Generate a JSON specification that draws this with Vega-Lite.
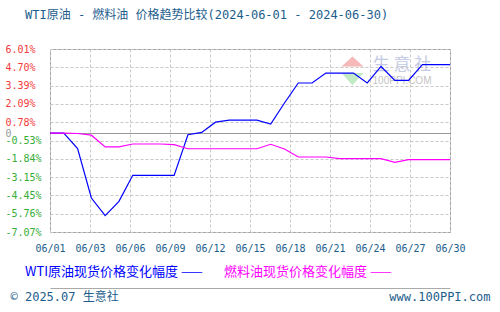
{
  "$schema": "https://vega.github.io/schema/vega-lite/v6.json",
  "width": 400,
  "height": 183,
  "autosize": {"type": "none"},
  "padding": {"left": 50, "top": 49, "right": 50, "bottom": 80},
  "background": "#ffffff",
  "config": {
    "view": {"stroke": "#999999", "strokeWidth": 1},
    "axis": {"labelFlush": false, "labelOverlap": false, "labelBound": false}
  },
  "title": {
    "text": "WTI原油 - 燃料油 价格趋势比较(2024-06-01 - 2024-06-30)",
    "anchor": "start",
    "frame": "group",
    "dx": -25,
    "offset": 22,
    "font": "DejaVu Sans Mono, Noto Sans CJK SC",
    "fontSize": 12,
    "fontWeight": "normal",
    "color": "#1c5d8c"
  },
  "data": {
    "values": [
      {"date": "2024-06-01", "series": "WTI原油现货价格变化幅度", "value": 0},
      {"date": "2024-06-02", "series": "WTI原油现货价格变化幅度", "value": 0},
      {"date": "2024-06-03", "series": "WTI原油现货价格变化幅度", "value": -1.1},
      {"date": "2024-06-04", "series": "WTI原油现货价格变化幅度", "value": -4.64},
      {"date": "2024-06-05", "series": "WTI原油现货价格变化幅度", "value": -5.9},
      {"date": "2024-06-06", "series": "WTI原油现货价格变化幅度", "value": -4.88},
      {"date": "2024-06-07", "series": "WTI原油现货价格变化幅度", "value": -3.02},
      {"date": "2024-06-08", "series": "WTI原油现货价格变化幅度", "value": -3.02},
      {"date": "2024-06-09", "series": "WTI原油现货价格变化幅度", "value": -3.02},
      {"date": "2024-06-10", "series": "WTI原油现货价格变化幅度", "value": -3.02},
      {"date": "2024-06-11", "series": "WTI原油现货价格变化幅度", "value": -0.12},
      {"date": "2024-06-12", "series": "WTI原油现货价格变化幅度", "value": 0.05},
      {"date": "2024-06-13", "series": "WTI原油现货价格变化幅度", "value": 0.78},
      {"date": "2024-06-14", "series": "WTI原油现货价格变化幅度", "value": 0.93},
      {"date": "2024-06-15", "series": "WTI原油现货价格变化幅度", "value": 0.93},
      {"date": "2024-06-16", "series": "WTI原油现货价格变化幅度", "value": 0.93},
      {"date": "2024-06-17", "series": "WTI原油现货价格变化幅度", "value": 0.65},
      {"date": "2024-06-18", "series": "WTI原油现货价格变化幅度", "value": 2.15},
      {"date": "2024-06-19", "series": "WTI原油现货价格变化幅度", "value": 3.58},
      {"date": "2024-06-20", "series": "WTI原油现货价格变化幅度", "value": 3.58},
      {"date": "2024-06-21", "series": "WTI原油现货价格变化幅度", "value": 4.29},
      {"date": "2024-06-22", "series": "WTI原油现货价格变化幅度", "value": 4.29},
      {"date": "2024-06-23", "series": "WTI原油现货价格变化幅度", "value": 4.29},
      {"date": "2024-06-24", "series": "WTI原油现货价格变化幅度", "value": 3.58},
      {"date": "2024-06-25", "series": "WTI原油现货价格变化幅度", "value": 4.76},
      {"date": "2024-06-26", "series": "WTI原油现货价格变化幅度", "value": 3.77},
      {"date": "2024-06-27", "series": "WTI原油现货价格变化幅度", "value": 3.77},
      {"date": "2024-06-28", "series": "WTI原油现货价格变化幅度", "value": 4.89},
      {"date": "2024-06-29", "series": "WTI原油现货价格变化幅度", "value": 4.89},
      {"date": "2024-06-30", "series": "WTI原油现货价格变化幅度", "value": 4.89},
      {"date": "2024-06-01", "series": "燃料油现货价格变化幅度", "value": 0},
      {"date": "2024-06-02", "series": "燃料油现货价格变化幅度", "value": 0},
      {"date": "2024-06-03", "series": "燃料油现货价格变化幅度", "value": -0.03},
      {"date": "2024-06-04", "series": "燃料油现货价格变化幅度", "value": -0.15},
      {"date": "2024-06-05", "series": "燃料油现货价格变化幅度", "value": -0.99},
      {"date": "2024-06-06", "series": "燃料油现货价格变化幅度", "value": -0.99},
      {"date": "2024-06-07", "series": "燃料油现货价格变化幅度", "value": -0.78},
      {"date": "2024-06-08", "series": "燃料油现货价格变化幅度", "value": -0.78},
      {"date": "2024-06-09", "series": "燃料油现货价格变化幅度", "value": -0.78},
      {"date": "2024-06-10", "series": "燃料油现货价格变化幅度", "value": -0.82},
      {"date": "2024-06-11", "series": "燃料油现货价格变化幅度", "value": -1.12},
      {"date": "2024-06-12", "series": "燃料油现货价格变化幅度", "value": -1.12},
      {"date": "2024-06-13", "series": "燃料油现货价格变化幅度", "value": -1.12},
      {"date": "2024-06-14", "series": "燃料油现货价格变化幅度", "value": -1.12},
      {"date": "2024-06-15", "series": "燃料油现货价格变化幅度", "value": -1.12},
      {"date": "2024-06-16", "series": "燃料油现货价格变化幅度", "value": -1.12},
      {"date": "2024-06-17", "series": "燃料油现货价格变化幅度", "value": -0.8},
      {"date": "2024-06-18", "series": "燃料油现货价格变化幅度", "value": -1.14},
      {"date": "2024-06-19", "series": "燃料油现货价格变化幅度", "value": -1.71},
      {"date": "2024-06-20", "series": "燃料油现货价格变化幅度", "value": -1.71},
      {"date": "2024-06-21", "series": "燃料油现货价格变化幅度", "value": -1.71},
      {"date": "2024-06-22", "series": "燃料油现货价格变化幅度", "value": -1.83},
      {"date": "2024-06-23", "series": "燃料油现货价格变化幅度", "value": -1.83},
      {"date": "2024-06-24", "series": "燃料油现货价格变化幅度", "value": -1.83},
      {"date": "2024-06-25", "series": "燃料油现货价格变化幅度", "value": -1.83},
      {"date": "2024-06-26", "series": "燃料油现货价格变化幅度", "value": -2.09},
      {"date": "2024-06-27", "series": "燃料油现货价格变化幅度", "value": -1.9},
      {"date": "2024-06-28", "series": "燃料油现货价格变化幅度", "value": -1.9},
      {"date": "2024-06-29", "series": "燃料油现货价格变化幅度", "value": -1.9},
      {"date": "2024-06-30", "series": "燃料油现货价格变化幅度", "value": -1.9}
    ]
  },
  "layer": [
    {
      "data": {"values": [{}]},
      "layer": [
        {
          "mark": {"type": "point", "shape": "M-1,0.45L0,-0.45L1,0.45Z", "filled": true, "color": "#f6b8b8", "opacity": 1, "size": 484},
          "encoding": {
            "x": {
              "datum": {"year": 2024, "month": 6, "date": 22, "hours": 22, "minutes": 20, "utc": true},
              "type": "temporal",
              "scale": {"type": "utc", "domain": [{"year": 2024, "month": 6, "date": 1, "utc": true}, {"year": 2024, "month": 6, "date": 30, "utc": true}]},
              "axis": {"orient": "bottom", "offset": 56, "domain": true, "domainColor": "#aaaaaa", "labels": false, "ticks": false, "grid": false, "title": null}
            },
            "y": {"datum": 5.12, "type": "quantitative", "scale": {"domain": [-7.07, 6.01], "nice": false, "zero": false}, "axis": null}
          }
        },
        {
          "mark": {"type": "point", "shape": "M-1,-0.55L1,-0.55L0,0.55Z", "filled": true, "color": "#c2eac4", "opacity": 1, "size": 484},
          "encoding": {
            "x": {"datum": {"year": 2024, "month": 6, "date": 22, "hours": 22, "minutes": 20, "utc": true}, "type": "temporal"},
            "y": {"datum": 3.86, "type": "quantitative"}
          }
        },
        {
          "mark": {"type": "text", "text": "生 意 社", "font": "Noto Sans CJK SC", "fontSize": 17, "color": "#c5cbe3", "align": "center", "baseline": "middle"},
          "encoding": {
            "x": {"datum": {"year": 2024, "month": 6, "date": 26, "hours": 12, "minutes": 30, "utc": true}, "type": "temporal"},
            "y": {"datum": 4.9, "type": "quantitative"}
          }
        },
        {
          "mark": {"type": "text", "text": "100PPI.COM", "font": "Liberation Sans", "fontSize": 10, "color": "#c4c4c4", "align": "center", "baseline": "middle"},
          "encoding": {
            "x": {"datum": {"year": 2024, "month": 6, "date": 26, "hours": 12, "minutes": 30, "utc": true}, "type": "temporal"},
            "y": {"datum": 3.72, "type": "quantitative"}
          }
        }
      ]
    },
    {
      "mark": {"type": "line", "strokeWidth": 1.2},
      "encoding": {
        "x": {
          "field": "date",
          "type": "temporal",
          "scale": {"type": "utc", "domain": [{"year": 2024, "month": 6, "date": 1, "utc": true}, {"year": 2024, "month": 6, "date": 30, "utc": true}]},
          "axis": {
            "orient": "bottom",
            "values": [
              {"year": 2024, "month": 6, "date": 1, "utc": true},
              {"year": 2024, "month": 6, "date": 3, "hours": 21, "minutes": 36, "utc": true},
              {"year": 2024, "month": 6, "date": 6, "hours": 19, "minutes": 12, "utc": true},
              {"year": 2024, "month": 6, "date": 9, "hours": 16, "minutes": 48, "utc": true},
              {"year": 2024, "month": 6, "date": 12, "hours": 14, "minutes": 24, "utc": true},
              {"year": 2024, "month": 6, "date": 15, "hours": 12, "utc": true},
              {"year": 2024, "month": 6, "date": 18, "hours": 9, "minutes": 36, "utc": true},
              {"year": 2024, "month": 6, "date": 21, "hours": 7, "minutes": 12, "utc": true},
              {"year": 2024, "month": 6, "date": 24, "hours": 4, "minutes": 48, "utc": true},
              {"year": 2024, "month": 6, "date": 27, "hours": 2, "minutes": 24, "utc": true},
              {"year": 2024, "month": 6, "date": 30, "utc": true}
            ],
            "labelExpr": "utcFormat(datum.value, '%m/%d')",
            "grid": true,
            "gridColor": "#c8c8c8",
            "gridDash": [3, 2],
            "ticks": false,
            "domain": false,
            "labelFont": "DejaVu Sans Mono",
            "labelFontSize": 10,
            "labelColor": "#1c5d8c",
            "labelPadding": 11,
            "title": "© 2025.07 生意社",
            "titleX": -40,
            "titleY": 64,
            "titleAlign": "left",
            "titleBaseline": "middle",
            "titleFont": "DejaVu Sans Mono, Noto Sans CJK SC",
            "titleFontSize": 12,
            "titleFontWeight": "normal",
            "titleColor": "#1c5d8c"
          }
        },
        "y": {
          "field": "value",
          "type": "quantitative",
          "scale": {"domain": [-7.07, 6.01], "nice": false, "zero": false},
          "axis": {
            "orient": "left",
            "values": [6.01, 4.7, 3.39, 2.09, 0.78, 0, -0.53, -1.84, -3.15, -4.45, -5.76, -7.07],
            "labelExpr": "datum.value === 0 ? '0' : (datum.value < 0 ? '-' : '') + format(abs(datum.value), '.2f') + '%'",
            "labelAlign": "left",
            "labelBaseline": "middle",
            "labelPadding": 45,
            "ticks": false,
            "domain": false,
            "grid": true,
            "gridColor": {"condition": {"test": "datum.value === 0", "value": "#999999"}, "value": "#c8c8c8"},
            "gridDash": {"condition": {"test": "datum.value === 0", "value": []}, "value": [3, 2]},
            "labelColor": {"condition": [{"test": "datum.value > 0", "value": "#f23a3a"}, {"test": "datum.value < 0", "value": "#36ad36"}], "value": "#999999"},
            "labelFont": "DejaVu Sans Mono",
            "labelFontSize": 10,
            "title": "www.100PPI.com",
            "titleAngle": 0,
            "titleX": 440,
            "titleY": 247,
            "titleAlign": "right",
            "titleBaseline": "middle",
            "titleFont": "DejaVu Sans Mono",
            "titleFontSize": 12,
            "titleFontWeight": "normal",
            "titleColor": "#1c5d8c"
          }
        },
        "color": {
          "field": "series",
          "type": "nominal",
          "scale": {"domain": ["WTI原油现货价格变化幅度", "燃料油现货价格变化幅度"], "range": ["#0000ff", "#ff00ff"]},
          "legend": {
            "orient": "none",
            "legendX": -38,
            "legendY": 216,
            "direction": "horizontal",
            "title": null,
            "padding": 0,
            "symbolSize": 0,
            "symbolOpacity": 0,
            "symbolStrokeWidth": 0,
            "labelOffset": 0,
            "labelExpr": "datum.label + ' ——'",
            "labelFont": "Noto Sans CJK SC",
            "labelFontSize": 13,
            "labelLimit": 400,
            "columnPadding": 8,
            "labelColor": {"expr": "datum.value === 'WTI原油现货价格变化幅度' ? '#0000ff' : '#ff00ff'"}
          }
        }
      }
    }
  ],
  "resolve": {
    "scale": {"x": "independent", "y": "independent"},
    "axis": {"x": "independent", "y": "independent"}
  }
}
